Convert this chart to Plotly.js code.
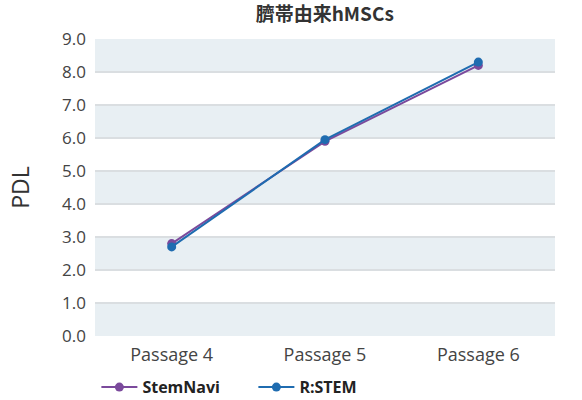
<!DOCTYPE html>
<html><head><meta charset="utf-8">
<script src="https://cdn.plot.ly/plotly-3.0.1.min.js"></script>
<style>body{margin:0;}#chart{width:582px;height:400px;}</style>
</head><body><div id="chart"></div>
<script>
const categories = ["Passage 4", "Passage 5", "Passage 6"];
const stemNavi = [2.8, 5.9, 8.2];
const rStem = [2.7, 5.95, 8.3];
const yTicks = [0,1,2,3,4,5,6,7,8,9];
const yTickText = yTicks.map(v => v.toFixed(1));

const bandShapes = [];
for (let i = 0; i < 9; i += 2) {
  bandShapes.push({type:'rect', xref:'paper', yref:'y', x0:0, x1:1, y0:i, y1:i+1,
    fillcolor:'#e8eff3', line:{width:0}, layer:'below'});
}

const font = "'Open Sans', 'Noto Sans', sans-serif";
const cjk = "'Noto Sans CJK JP', sans-serif";
const traces = [
  {x: categories, y: stemNavi, name: 'StemNavi', type:'scatter', mode:'lines+markers',
   line:{color:'#7b4a9c', width:2}, marker:{color:'#7b4a9c', size:9}},
  {x: categories, y: rStem, name: 'R:STEM', type:'scatter', mode:'lines+markers',
   line:{color:'#1f6cb0', width:2}, marker:{color:'#1f6cb0', size:9}}
];
const layout = {
  width:582, height:400,
  margin:{l:95, r:27, t:39, b:64, autoexpand:false},
  paper_bgcolor:'#ffffff', plot_bgcolor:'#ffffff',
  font:{family:font, color:'#444', size:17},
  title:{text:'<b>臍帯由来hMSCs</b>', x:0.558, xanchor:'center', y:0.965, yanchor:'middle',
    font:{family:cjk, size:19, color:'#333'}},
  xaxis:{type:'category', range:[-0.5, 2.5], showgrid:false, zeroline:false, showline:false,
    ticks:'', tickfont:{size:18, color:'#444'}, automargin:false, ticklabelstandoff:6},
  yaxis:{range:[0, 9], tickvals:yTicks, ticktext:yTickText, showgrid:true, gridcolor:'#dadee1',
    gridwidth:1.5, zeroline:false, showline:false, ticks:'', tickfont:{size:17, color:'#444'},
    ticklabelstandoff:8, automargin:false,
    title:{text:'PDL', font:{size:23, color:'#333'}, standoff:26}},
  shapes: bandShapes,
  showlegend:true,
  legend:{orientation:'h', x:0.003, xanchor:'left', yref:'container', y:0.032, yanchor:'middle',
    font:{family:"'Open Sans', sans-serif", size:16, color:'#222', weight:'bold'},
    itemwidth:36, entrywidth:106}
};
Plotly.newPlot('chart', traces, layout, {displayModeBar:false});
</script></body></html>
